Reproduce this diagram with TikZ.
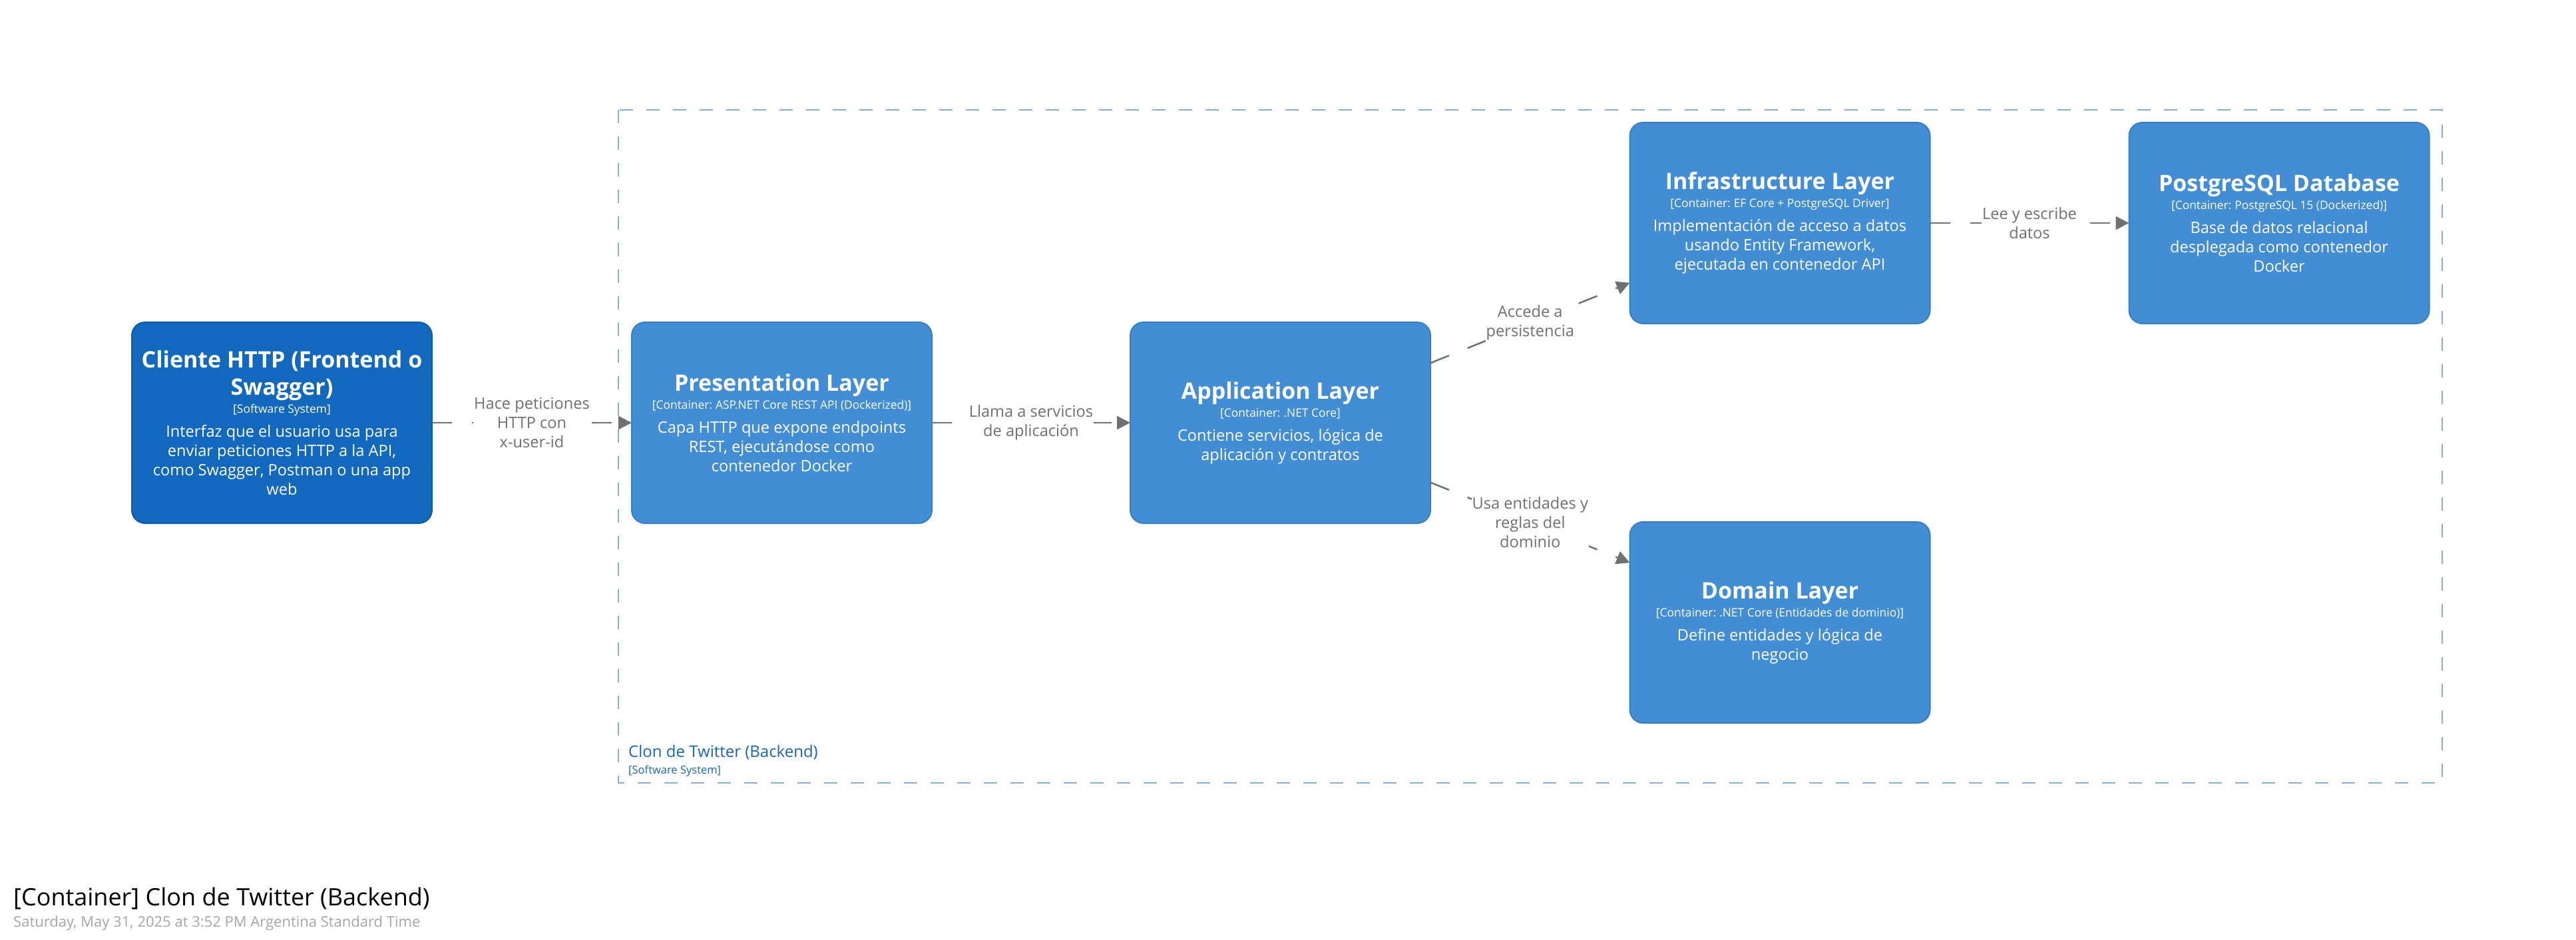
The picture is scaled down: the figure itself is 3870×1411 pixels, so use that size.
\documentclass[tikz,border=0pt]{standalone}
\usepackage{fontspec}
\setmainfont{Open Sans}
\usetikzlibrary{arrows.meta}
\setlength{\parindent}{0pt}
\definecolor{clientblue}{HTML}{1168BD}
\definecolor{clientedge}{HTML}{0E5BA8}
\definecolor{contblue}{HTML}{438DD5}
\definecolor{contedge}{HTML}{3A7EC2}
\definecolor{conngray}{HTML}{707070}
\definecolor{bndblue}{HTML}{87ACD8}
\definecolor{bndtext}{HTML}{1A66B5}
\definecolor{dategray}{HTML}{A6A6A6}
\newcommand\elname[1]{{\fontsize{34}{41}\selectfont\bfseries\spaceskip=0.26em\relax #1\par}}
\newcommand\elmeta[1]{{\fontsize{17.4}{27}\selectfont\spaceskip=0.26em\relax #1\par}}
\newcommand\eldesc[1]{\vspace{7pt}{\fontsize{23.6}{29}\selectfont\spaceskip=0.26em\relax #1\par}}
\tikzset{
  elbox/.style={rectangle, rounded corners=20pt, minimum width=451pt, minimum height=302pt,
    text width=446pt, align=center, text=white, line width=2pt, outer sep=0pt, inner sep=0pt},
  sysbox/.style={elbox, fill=clientblue, draw=clientedge},
  contbox/.style={elbox, fill=contblue, draw=contedge},
  conn/.style={draw=conngray, line width=2.5pt, dash pattern=on 30pt off 30pt,
    -{Triangle[length=20pt,width=20pt]}},
  lbl/.style={fill=white, text=conngray, font=\fontsize{23.6}{29}\selectfont, align=center,
    inner xsep=1pt, inner ysep=2pt},
  plaintext/.style={anchor=base west, inner sep=0pt},
}
\begin{document}
\begin{tikzpicture}[x=1pt,y=-1pt]
\useasboundingbox (0,0) rectangle (3870,1411);
\fill[white] (0,0) rectangle (3870,1411);
% boundary
\draw[bndblue, line width=2.5pt, dash pattern=on 20pt off 20pt] (929,165) rectangle (3669,1176);
\node[plaintext, text=bndtext, font=\fontsize{24}{28}\selectfont] (bname) at (944,1137) {Clon de Twitter (Backend)};
\node[plaintext, text=bndtext, font=\fontsize{16.5}{20}\selectfont] (bmeta) at (944,1162) {[Software System]};
% elements
\node[sysbox] (cli) at (423.5,635) {\elname{Cliente HTTP (Frontend o\\Swagger)}\elmeta{[Software System]}\eldesc{Interfaz que el usuario usa para\\enviar peticiones HTTP a la API,\\como Swagger, Postman o una app\\web}};
\node[contbox] (pres) at (1174.5,635) {\elname{Presentation Layer}\elmeta{[Container: ASP.NET Core REST API (Dockerized)]}\eldesc{Capa HTTP que expone endpoints\\REST, ejecutándose como\\contenedor Docker}};
\node[contbox] (app) at (1923.5,635) {\elname{Application Layer}\elmeta{[Container: .NET Core]}\eldesc{Contiene servicios, lógica de\\aplicación y contratos}};
\node[contbox] (infra) at (2674,335) {\elname{Infrastructure Layer}\elmeta{[Container: EF Core + PostgreSQL Driver]}\eldesc{Implementación de acceso a datos\\usando Entity Framework,\\ejecutada en contenedor API}};
\node[contbox] (pg) at (3424,335) {\elname{PostgreSQL Database}\elmeta{[Container: PostgreSQL 15 (Dockerized)]}\eldesc{Base de datos relacional\\desplegada como contenedor\\Docker}};
\node[contbox] (dom) at (2674,935) {\elname{Domain Layer}\elmeta{[Container: .NET Core (Entidades de dominio)]}\eldesc{Define entidades y lógica de\\negocio}};
% connectors
\draw[conn] (cli) -- node[lbl] (l1) {Hace peticiones\\HTTP con\\x-user-id} (pres);
\draw[conn] (pres) -- node[lbl] (l2) {Llama a servicios\\de aplicación} (app);
\draw[conn] (app) -- node[lbl] (l3) {Accede a\\persistencia} (infra);
\draw[conn] (app) -- node[lbl] (l4) {Usa entidades y\\reglas del\\dominio} (dom);
\draw[conn] (infra) -- node[lbl] (l5) {Lee y escribe\\datos} (pg);
% title
\node[plaintext, font=\fontsize{36}{44}\selectfont] (title) at (20,1360) {[Container] Clon de Twitter (Backend)};
\node[plaintext, text=dategray, font=\fontsize{22}{28}\selectfont] (date) at (20,1392) {Saturday, May 31, 2025 at 3:52 PM Argentina Standard Time};
\end{tikzpicture}
\end{document}
